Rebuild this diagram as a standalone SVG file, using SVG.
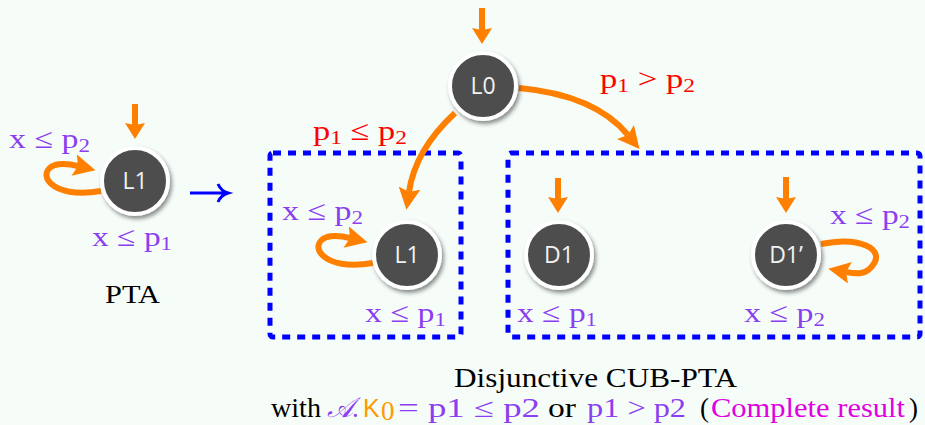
<svg xmlns="http://www.w3.org/2000/svg" width="925" height="425" viewBox="0 0 925 425">
<defs>
<filter id="sh" x="-30%" y="-30%" width="170%" height="170%"><feDropShadow dx="2" dy="3" stdDeviation="2" flood-color="#000" flood-opacity="0.45"/></filter>
<marker id="ah" viewBox="0 0 22 22" markerUnits="userSpaceOnUse" markerWidth="22" markerHeight="22" refX="4" refY="11" orient="auto"><path d="M0,0 L22,11 L0,22 L4,11 z" fill="#ff8000"/></marker>
<marker id="ai" viewBox="0 0 16 20" markerUnits="userSpaceOnUse" markerWidth="16" markerHeight="20" refX="2" refY="10" orient="auto"><path d="M0,0 L16,10 L0,20 L2,10 z" fill="#ff8000"/></marker>
</defs>
<style>
.bg{fill:#f6fdf9}
.node circle{fill:#4d4d4d;stroke:#fff;stroke-width:4;filter:url(#sh)}
.node text{fill:#f2f2f2;font-family:"Open Sans","DejaVu Sans",sans-serif;font-size:23px;text-anchor:middle}
.edge{fill:none;stroke:#ff8000;stroke-width:6;marker-end:url(#ah)}
.init{fill:none;stroke:#ff8000;stroke-width:6;marker-end:url(#ai)}
.box{fill:none;stroke:#0000ff;stroke-width:5;stroke-dasharray:8 7}
.m{font-family:"Liberation Serif","DejaVu Serif",serif;font-size:28px}
.pu{fill:#8c3ff0}
.rd{fill:#ff0000}
.bk{fill:#000;font-family:"Liberation Serif","DejaVu Serif",serif}
.s{font-family:"Liberation Serif","DejaVu Serif",serif;font-size:27px}
</style>
<rect class="bg" x="0" y="0" width="925" height="425"/>

<rect class="box" x="270" y="153" width="191" height="184" rx="3"/>
<rect class="box" x="508" y="153" width="412" height="184" rx="3"/>

<g id="connectors">
<path class="init" d="M135,104 L135,125"/>
<path class="init" d="M482,8 L482,30"/>
<path class="init" d="M558,178 L558,199"/>
<path class="init" d="M786,177 L786,199"/>
<path class="edge" d="M101,191 C50,200 35,172 55,165 C62,163 70,164 78,166"/>
<path class="edge" d="M373,263 C322,272 307,244 327,237 C334,235 342,236 350,238"/>
<path class="edge" d="M821,244 C860,236 885,249 873,265 C866,275 857,274 846,272"/>
<path class="edge" d="M455,113 Q415,150 409,192"/>
<path class="edge" d="M519,88 Q595,95 628,135"/>
<path d="M190,193 L227,193 M218,184 Q221,191 228,193 Q221,195 218,202" fill="none" stroke="#0000ff" stroke-width="3"/>
</g>

<g id="pta-L1" class="node"><circle cx="135" cy="181" r="33"/><text x="135" y="189">L1</text></g>
<g id="L0" class="node"><circle cx="483" cy="86" r="33"/><text x="483" y="94">L0</text></g>
<g id="box-L1" class="node"><circle cx="407" cy="255" r="33"/><text x="407" y="263">L1</text></g>
<g id="D1" class="node"><circle cx="559" cy="255" r="33"/><text x="559" y="263">D1</text></g>
<g id="D1p" class="node"><circle cx="786" cy="255" r="33"/><text x="786" y="263">D1’</text></g>

<g id="labels">
<text class="m pu" x="9" y="148" textLength="81" lengthAdjust="spacingAndGlyphs">x ≤ p<tspan font-size="19" dy="4">2</tspan></text>
<text class="m pu" x="92" y="246" textLength="80" lengthAdjust="spacingAndGlyphs">x ≤ p<tspan font-size="19" dy="4">1</tspan></text>
<text class="bk" x="105" y="303" font-size="26" textLength="55" lengthAdjust="spacingAndGlyphs">PTA</text>
<text class="m rd" x="600" y="88" textLength="95" lengthAdjust="spacingAndGlyphs">p<tspan font-size="19" dy="4">1</tspan><tspan dy="-4"> &gt; p</tspan><tspan font-size="19" dy="4">2</tspan></text>
<text class="m rd" x="313" y="140" textLength="94" lengthAdjust="spacingAndGlyphs">p<tspan font-size="19" dy="4">1</tspan><tspan dy="-4"> ≤ p</tspan><tspan font-size="19" dy="4">2</tspan></text>
<text class="m pu" x="282" y="220" textLength="81" lengthAdjust="spacingAndGlyphs">x ≤ p<tspan font-size="19" dy="4">2</tspan></text>
<text class="m pu" x="365" y="322" textLength="81" lengthAdjust="spacingAndGlyphs">x ≤ p<tspan font-size="19" dy="4">1</tspan></text>
<text class="m pu" x="517" y="322" textLength="80" lengthAdjust="spacingAndGlyphs">x ≤ p<tspan font-size="19" dy="4">1</tspan></text>
<text class="m pu" x="744" y="322" textLength="81" lengthAdjust="spacingAndGlyphs">x ≤ p<tspan font-size="19" dy="4">2</tspan></text>
<text class="m pu" x="830" y="224" textLength="80" lengthAdjust="spacingAndGlyphs">x ≤ p<tspan font-size="19" dy="4">2</tspan></text>
<text class="bk" x="454" y="387" font-size="27" textLength="283" lengthAdjust="spacingAndGlyphs">Disjunctive CUB-PTA</text>
</g>
<g id="caption">
<text class="s" fill="#000" x="271" y="417" textLength="50" lengthAdjust="spacingAndGlyphs">with</text>
<text class="pu" x="327" y="417" font-family="'DejaVu Serif','Noto Sans',serif" font-style="italic" font-size="28">𝒜</text>
<text class="s pu" x="352" y="417">.</text>
<text fill="#ff9900" x="363" y="417" font-family="Liberation Sans,sans-serif" font-size="25">K</text>
<text fill="#ff9900" x="381" y="420" class="s" font-size="17">0</text>
<text class="s pu" x="398" y="417" textLength="142" lengthAdjust="spacingAndGlyphs">= p1 ≤ p2</text>
<text class="s" fill="#000" x="548" y="417" textLength="28" lengthAdjust="spacingAndGlyphs">or</text>
<text class="s pu" x="587" y="417" textLength="99" lengthAdjust="spacingAndGlyphs">p1 &gt; p2</text>
<text class="s" fill="#000" x="700" y="417">(</text>
<text class="s" fill="#e000e0" x="711" y="417" textLength="194" lengthAdjust="spacingAndGlyphs">Complete result</text>
<text class="s" fill="#000" x="909" y="417">)</text>
</g>
</svg>
